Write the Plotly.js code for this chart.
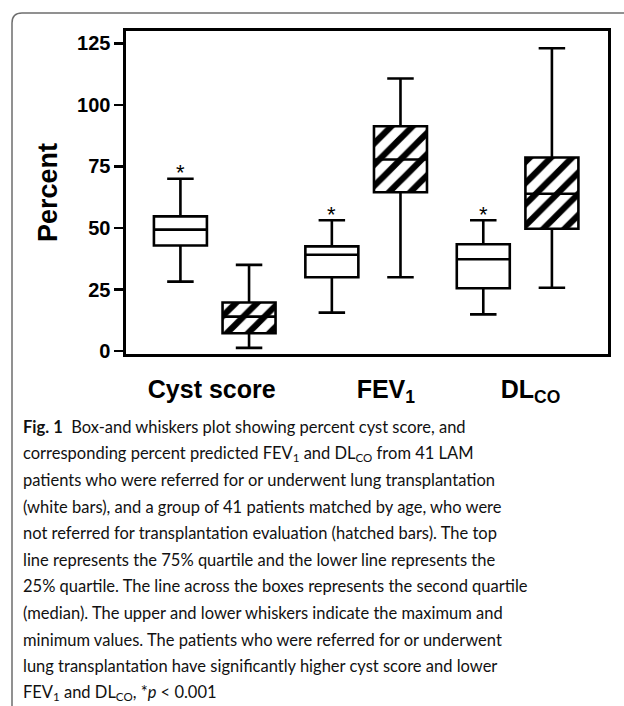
<!DOCTYPE html>
<html>
<head>
<meta charset="utf-8">
<script src="https://cdn.plot.ly/plotly-3.0.1.min.js"></script>
<style>
  html, body { margin: 0; padding: 0; background: #ffffff; }
  #chart { width: 624px; height: 706px; }
</style>
</head>
<body>
<div id="chart"></div>
<script>
// ---- Data ----
const categories = ['Cyst score', 'FEV1', 'DLCO'];
const tickLabels = ['Cyst score', 'FEV<sub>1</sub>', 'DL<sub>CO</sub>'];
const yTicks = [0, 25, 50, 75, 100, 125];

// referred for / underwent lung transplantation (white boxes)
const referredMin    = [28.2, 15.6, 14.9];
const referredQ1     = [42.9, 30.0, 25.5];
const referredMedian = [49.3, 39.1, 37.3];
const referredQ3     = [54.7, 42.5, 43.4];
const referredMax    = [70.0, 53.1, 53.1];
const significant    = [true, true, true];

// matched, not referred (hatched boxes)
const matchedMin    = [1.3, 30.0, 25.7];
const matchedQ1     = [7.2, 64.5, 49.7];
const matchedMedian = [14.0, 77.8, 63.9];
const matchedQ3     = [19.7, 91.3, 78.6];
const matchedMax    = [35.0, 110.7, 123.0];

const captionLines = [
  '<b>Fig. 1</b>&#160;&#160;Box-and whiskers plot showing percent cyst score, and',
  'corresponding percent predicted FEV<sub>1</sub> and DL<sub>CO</sub> from 41 LAM',
  'patients who were referred for or underwent lung transplantation',
  '(white bars), and a group of 41 patients matched by age, who were',
  'not referred for transplantation evaluation (hatched bars). The top',
  'line represents the 75% quartile and the lower line represents the',
  '25% quartile. The line across the boxes represents the second quartile',
  '(median). The upper and lower whiskers indicate the maximum and',
  'minimum values. The patients who were referred for or underwent',
  'lung transplantation have significantly higher cyst score and lower',
  'FEV<sub>1</sub> and DL<sub>CO</sub>, *<i>p</i>&#160;&lt;&#160;0.001'
];

// ---- Layout geometry (pixels) ----
const W = 624, H = 706;
const L = 126, R = 16, T = 31, B = 352;
const plotW = W - L - R, plotH = H - T - B;
const px2x = p => (p - L) / plotW;
const py2y = p => (H - B - p) / plotH;

const OFF = 0.2266, BW = 0.35;
const labelNudge = [-0.02, 0.13, 0.085];
const idx = categories.map((c, i) => i);
const xRef = idx.map(i => i - OFF);
const xMat = idx.map(i => i + OFF);

const lineStyle = { color: '#000000', width: 2.6 };

const traces = [
  {
    type: 'bar',
    x: xMat,
    base: matchedQ1,
    y: matchedQ3.map((v, i) => v - matchedQ1[i]),
    width: BW,
    marker: {
      color: '#ffffff',
      line: { width: 0 },
      pattern: { shape: '/', fgcolor: '#000000', bgcolor: '#ffffff', size: 15, solidity: 0.42, fillmode: 'replace' }
    },
    hoverinfo: 'skip',
    showlegend: false
  },
  {
    type: 'box',
    name: 'Referred / transplanted',
    x: xRef,
    q1: referredQ1, median: referredMedian, q3: referredQ3,
    lowerfence: referredMin, upperfence: referredMax,
    width: BW,
    whiskerwidth: 0.5,
    fillcolor: '#ffffff',
    line: lineStyle,
    boxpoints: false,
    showlegend: false
  },
  {
    type: 'box',
    name: 'Matched, not referred',
    x: xMat,
    q1: matchedQ1, median: matchedMedian, q3: matchedQ3,
    lowerfence: matchedMin, upperfence: matchedMax,
    width: BW,
    whiskerwidth: 0.5,
    fillcolor: 'rgba(0,0,0,0)',
    line: lineStyle,
    boxpoints: false,
    showlegend: false
  }
];

const annotations = [];
idx.forEach(i => {
  if (significant[i]) {
    annotations.push({
      xref: 'x', yref: 'y', x: xRef[i], y: referredMax[i],
      text: '*', showarrow: false, xanchor: 'center', yanchor: 'middle', yshift: 6,
      font: { family: 'Liberation Sans, Arial, sans-serif', size: 22, color: '#000000' }
    });
  }
});
const capTop = 426.7, capStep = 26.6;
captionLines.forEach((t, k) => {
  annotations.push({
    xref: 'paper', yref: 'paper', x: px2x(21), y: py2y(capTop + k * capStep),
    xanchor: 'left', yanchor: 'middle', text: t, showarrow: false, align: 'left',
    font: { family: 'Lato, sans-serif', size: 16.5, color: '#111111' }
  });
});

// outer rounded frame (partially visible)
const bx = 12, by = 13, rad = 10;
const shapes = [{
  type: 'path', xref: 'paper', yref: 'paper', layer: 'below',
  path: 'M ' + px2x(W + 5) + ',' + py2y(by) +
        ' L ' + px2x(bx + rad) + ',' + py2y(by) +
        ' Q ' + px2x(bx) + ',' + py2y(by) + ' ' + px2x(bx) + ',' + py2y(by + rad) +
        ' L ' + px2x(bx) + ',' + py2y(H + 5),
  line: { color: '#6e6e6e', width: 1.5 }
}];

const layout = {
  width: W, height: H,
  margin: { l: L, r: R, t: T, b: B, pad: 0 },
  paper_bgcolor: '#ffffff', plot_bgcolor: '#ffffff',
  showlegend: false,
  xaxis: {
    type: 'linear', range: [-0.586, 2.597],
    tickmode: 'array', tickvals: idx.map(i => i + labelNudge[i]), ticktext: tickLabels,
    ticks: '', showgrid: false, zeroline: false,
    showline: true, mirror: true, linecolor: '#000000', linewidth: 2.6,
    ticklabelstandoff: 11,
    tickfont: { family: 'Liberation Sans, Arial, sans-serif', size: 25, color: '#000000', weight: 'bold' }
  },
  yaxis: {
    range: [-1.2, 130],
    tickmode: 'array', tickvals: yTicks,
    ticks: 'outside', ticklen: 9, tickwidth: 2.6, tickcolor: '#000000',
    showgrid: false, zeroline: false,
    showline: true, mirror: true, linecolor: '#000000', linewidth: 2.6,
    tickfont: { family: 'Liberation Sans, Arial, sans-serif', size: 20, color: '#000000', weight: 'bold' },
    title: { text: 'Percent', standoff: 12,
      font: { family: 'Liberation Sans, Arial, sans-serif', size: 27, color: '#000000', weight: 'bold' } }
  },
  annotations: annotations,
  shapes: shapes
};

Plotly.newPlot('chart', traces, layout, { staticPlot: true, displayModeBar: false });
</script>
</body>
</html>
